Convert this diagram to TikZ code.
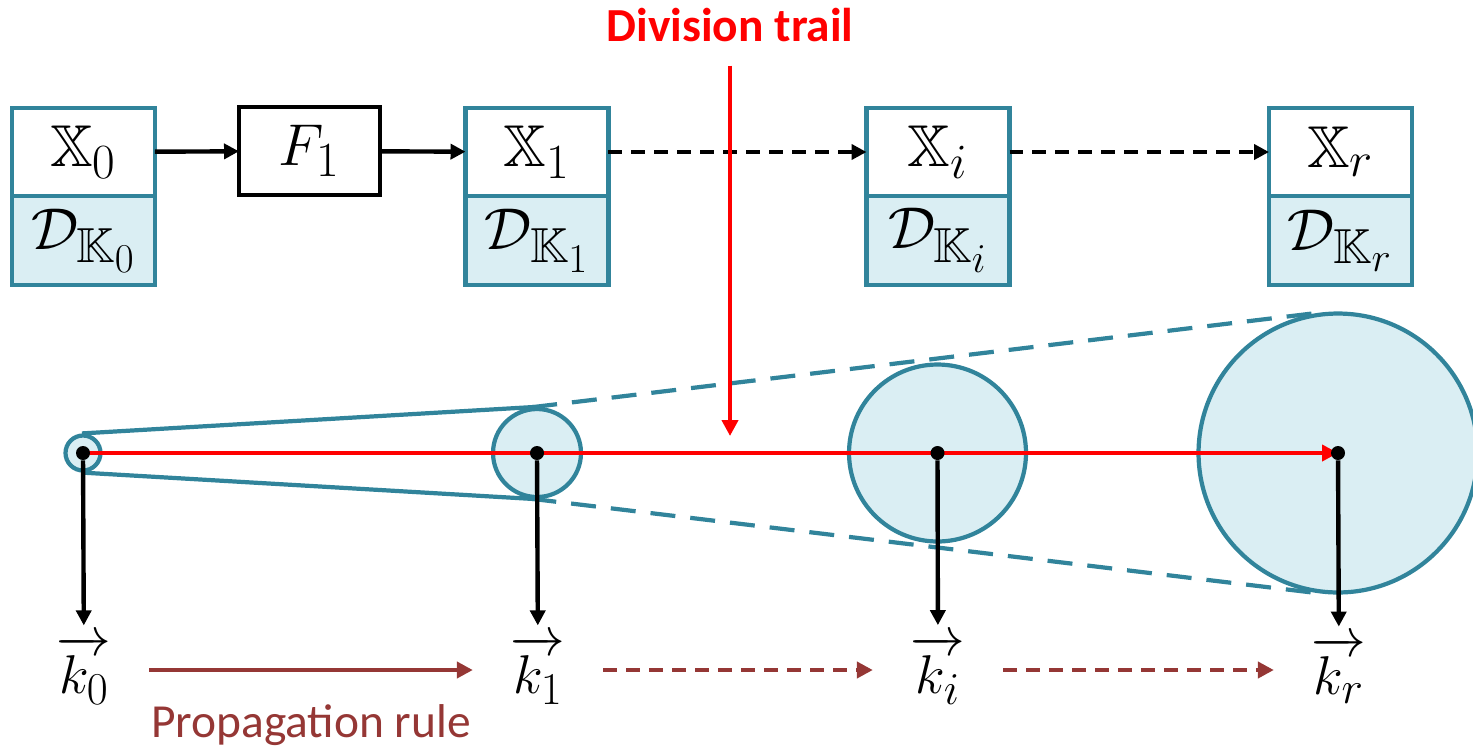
\documentclass[tikz,border=0pt]{standalone}
\usepackage{amsmath}
\usepackage{amssymb}
\usepackage{graphicx}
\usepackage{fontspec}
\setmainfont{Carlito}
\usetikzlibrary{positioning,arrows.meta}
\definecolor{tealline}{RGB}{49,132,155}
\definecolor{aquafill}{RGB}{218,238,243}
\definecolor{rulebrown}{RGB}{149,55,53}
\newcommand{\boxmath}[1]{\scalebox{1.35}{$#1$}}
\newcommand{\vecmath}[1]{\scalebox{1.25}{$\overrightarrow{#1}$}}
\tikzset{
  state/.style={draw=tealline, fill=white, line width=2.4pt, outer sep=0pt, inner sep=0pt,
    minimum width=2.86cm, minimum height=1.77cm, font=\fontsize{24.88}{30}\selectfont},
  dset/.style={state, fill=aquafill},
  func/.style={state, draw=black, minimum width=2.82cm, minimum height=1.76cm},
  ball/.style={circle, draw=tealline, fill=aquafill, line width=2.4pt, inner sep=0pt},
  dot/.style={circle, fill=black, inner sep=0pt, minimum size=0.28cm},
  vec/.style={inner sep=0pt, font=\fontsize{24.88}{30}\selectfont},
  arr/.style={-{Triangle[length=0.3cm,width=0.3cm]}, line width=2.5pt},
  redarr/.style={-{Triangle[length=0.32cm,width=0.32cm]}, line width=2.6pt, red},
  proparr/.style={-{Triangle[length=0.32cm,width=0.32cm]}, line width=2.8pt, rulebrown,
    shorten <=0.75cm, shorten >=0.75cm},
  cone/.style={tealline, line width=2.4pt},
  dsh/.style={dash pattern=on 0.28cm off 0.18cm}
}
\begin{document}
\begin{tikzpicture}[x=0.02cm, y=-0.02cm]
\useasboundingbox (0,0) rectangle (1473,751);

% state boxes and the round function
\node[state] (x0) at (83.5,152) {\boxmath{\mathbb{X}_0}};
\node[dset, below=0pt of x0] (d0) {\boxmath{\mathcal{D}_{\mathbb{K}_0}}};
\node[func] (f1) at (309.5,151) {\boxmath{F_1}};
\node[state] (x1) at (537,152) {\boxmath{\mathbb{X}_1}};
\node[dset, below=0pt of x1] (d1) {\boxmath{\mathcal{D}_{\mathbb{K}_1}}};
\node[state] (xi) at (938,152) {\boxmath{\mathbb{X}_i}};
\node[dset, below=0pt of xi] (di) {\boxmath{\mathcal{D}_{\mathbb{K}_i}}};
\node[state] (xr) at (1340.5,152) {\boxmath{\mathbb{X}_r}};
\node[dset, below=0pt of xr] (dr) {\boxmath{\mathcal{D}_{\mathbb{K}_r}}};

\draw[arr] (x0) -- (f1);
\draw[arr] (f1) -- (x1);
\draw[arr, dsh] (x1) -- (xi);
\draw[arr, dsh] (xi) -- (xr);

% growing sets
\node[ball, minimum size=0.7cm] (c0) at (83,453) {};
\node[ball, minimum size=1.76cm] (c1) at (537,453) {};
\node[ball, minimum size=3.54cm] (ci) at (937.5,453) {};
\node[ball, minimum size=5.58cm] (cr) at (1338,453) {};

\draw[cone] (c0.93.4) -- (c1.93.4);
\draw[cone] (c0.266.6) -- (c1.266.6);
\draw[cone, dash pattern=on 0.5cm off 0.3cm] (c1.96.8) -- (cr.96.8);
\draw[cone, dash pattern=on 0.5cm off 0.3cm] (c1.263.2) -- (cr.263.2);

% division trail
\node[red, font=\fontsize{27}{30}\selectfont\bfseries] (trail) at (730,25) {Division trail};
\coordinate (hit) at (730,436);
\draw[redarr, shorten <=0.35cm] (trail) -- (hit);
\draw[redarr] (c0.center) -- (cr.center);

\node[dot] (p0) at (c0.center) {};
\node[dot] (p1) at (c1.center) {};
\node[dot] (pi) at (ci.center) {};
\node[dot] (pr) at (cr.center) {};

% division property vectors
\node[vec] (k0) at (84,670) {\vecmath{k_0}};
\node[vec] (k1) at (538,670) {\vecmath{k_1}};
\node[vec] (ki) at (938,670) {\vecmath{k_i}};
\node[vec] (kr) at (1339,670) {\vecmath{k_r}};

\draw[arr, shorten >=0.2cm] (p0) -- (k0);
\draw[arr, shorten >=0.2cm] (p1) -- (k1);
\draw[arr, shorten >=0.2cm] (pi) -- (ki);
\draw[arr, shorten >=0.2cm] (pr) -- (kr);

\draw[proparr] (k0) -- node[below=0.52cm, font=\fontsize{27}{30}\selectfont] (prop) {Propagation rule} (k1);
\draw[proparr, dsh] (k1) -- (ki);
\draw[proparr, dsh] (ki) -- (kr);
\end{tikzpicture}
\end{document}
